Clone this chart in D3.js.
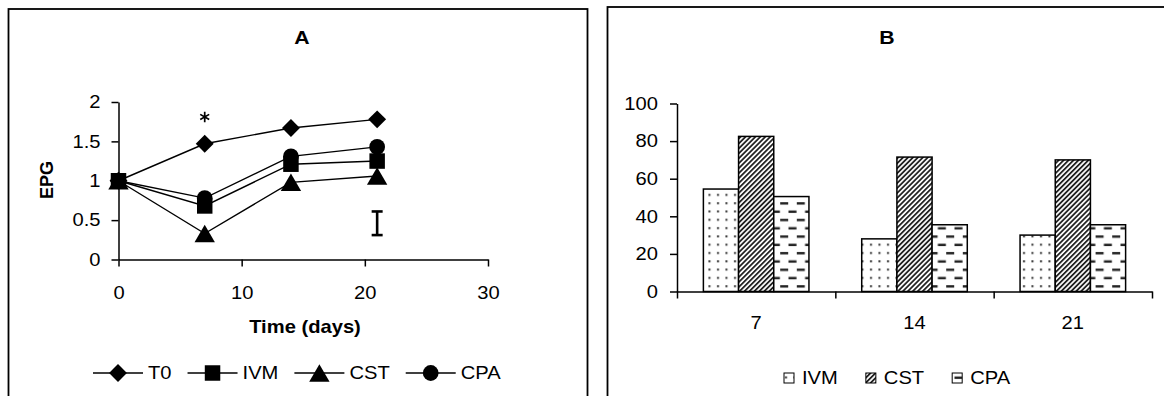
<!DOCTYPE html>
<html lang="en">
  <head>
    <meta charset="UTF-8" />
    <title>EPG and reduction</title>
    <style>
      body { margin: 0; background: #fff; }
      svg { display: block; font-family: "Liberation Sans", Arial, sans-serif; }
    </style>
  </head>
  <body>
    <svg></svg>
    <script src="https://cdnjs.cloudflare.com/ajax/libs/d3/7.8.5/d3.min.js"></script>
    <script>
      // ---- data, panel A (EPG over time) ----
      const days = [0, 7, 14, 21];
      const epgT0 = [1, 1.47, 1.67, 1.78];
      const epgIVM = [1, 0.68, 1.21, 1.25];
      const epgCST = [1, 0.33, 0.98, 1.06];
      const epgCPA = [1, 0.78, 1.31, 1.43];
      const lineNames = ["T0", "IVM", "CST", "CPA"];
      const xTicksA = [0, 10, 20, 30];
      const yTicksA = [0, 0.5, 1, 1.5, 2];
      const starDay = 7, starValue = 1.81;
      const errDay = 21, errLow = 0.31, errHigh = 0.61;

      // ---- data, panel B (bars) ----
      const barDays = ["7", "14", "21"];
      const barSeries = ["IVM", "CST", "CPA"];
      const pctIVM = [54.5, 28, 30];
      const pctCST = [82.5, 71.5, 70];
      const pctCPA = [50.5, 35.5, 35.5];
      const yTicksB = [0, 20, 40, 60, 80, 100];

      const W = 1164, H = 396;
      const K = 1.12; // text in the picture is a bit wider than plain Arial

      const svg = d3.select("svg").attr("width", W).attr("height", H);
      svg.append("rect").attr("width", W).attr("height", H).attr("fill", "#fff");

      // patterns for the bars
      const defs = svg.append("defs");
      const pDots = defs.append("pattern").attr("id", "p-IVM")
        .attr("patternUnits", "userSpaceOnUse").attr("width", 8.5).attr("height", 8.3);
      pDots.append("rect").attr("width", 8.5).attr("height", 8.3).attr("fill", "#fff");
      pDots.append("rect").attr("x", 3).attr("y", 3).attr("width", 2).attr("height", 2).attr("fill", "#333");

      const pHatch = defs.append("pattern").attr("id", "p-CST")
        .attr("patternUnits", "userSpaceOnUse").attr("width", 3.5).attr("height", 3.5)
        .attr("patternTransform", "rotate(45)");
      pHatch.append("rect").attr("width", 3.5).attr("height", 3.5).attr("fill", "#fff");
      pHatch.append("line").attr("x1", 0.9).attr("x2", 0.9).attr("y1", 0).attr("y2", 3.5)
        .attr("stroke", "#222").attr("stroke-width", 1.8);

      const pDash = defs.append("pattern").attr("id", "p-CPA")
        .attr("patternUnits", "userSpaceOnUse").attr("width", 16.6).attr("height", 16.6);
      pDash.append("rect").attr("width", 16.6).attr("height", 16.6).attr("fill", "#fff");
      pDash.append("rect").attr("x", 0).attr("y", 3).attr("width", 8).attr("height", 2.4).attr("fill", "#222");
      pDash.append("rect").attr("x", 8.3).attr("y", 11.3).attr("width", 8).attr("height", 2.4).attr("fill", "#222");

      // panel frames (bottom runs off the picture)
      svg.append("rect").attr("x", 8.5).attr("y", 9).attr("width", 579).attr("height", 400)
        .attr("fill", "none").attr("stroke", "#000").attr("stroke-width", 1.8);
      svg.append("rect").attr("x", 607.5).attr("y", 7).attr("width", 570).attr("height", 400)
        .attr("fill", "none").attr("stroke", "#000").attr("stroke-width", 1.8);

      function label(x, y, str, size, bold, anchor) {
        const g = svg.append("g").attr("transform", `translate(${x},${y})`);
        g.append("text")
          .attr("transform", `scale(${K},1)`)
          .attr("text-anchor", anchor || "middle")
          .attr("font-size", size)
          .attr("font-weight", bold ? "bold" : "normal")
          .text(str);
        return g;
      }

      function styleAxis(g) {
        g.selectAll("path, line").attr("stroke", "#000").attr("stroke-width", 1.5);
        g.selectAll("text").attr("fill", "#000").attr("font-size", 18)
          .each(function () {
            const t = d3.select(this);
            const x = +t.attr("x") || 0;
            t.attr("x", x / K).attr("transform", `scale(${K},1)`);
          });
        g.attr("font-family", null);
      }

      // ================= panel A =================
      const xA = d3.scaleLinear().domain([0, 30]).range([118.5, 488]);
      const yA = d3.scaleLinear().domain([0, 2]).range([259.5, 102]);

      svg.append("g").attr("transform", `translate(0,${yA(0)})`)
        .call(d3.axisBottom(xA).tickValues(xTicksA).tickSize(7).tickSizeOuter(0)
          .tickPadding(20).tickFormat(d3.format("d")))
        .call(styleAxis);
      svg.append("g").attr("transform", `translate(${xA(0)},0)`)
        .call(d3.axisLeft(yA).tickValues(yTicksA).tickSize(7).tickSizeOuter(0)
          .tickPadding(11).tickFormat(d3.format("")))
        .call(styleAxis);

      label(302, 43.5, "A", 19, true);
      label(305, 333, "Time (days)", 18, true);
      svg.append("text").attr("transform", "translate(53,180) rotate(-90)")
        .attr("text-anchor", "middle").attr("font-size", 18).attr("font-weight", "bold")
        .text("EPG");

      const symbols = {
        T0: { type: d3.symbolSquare, size: 160, rot: 45, dy: 0 },
        IVM: { type: d3.symbolSquare, size: 240, rot: 0, dy: 0 },
        CST: { type: d3.symbolTriangle, size: 180, rot: 0, dy: 2.9 },
        CPA: { type: d3.symbolCircle, size: 195, rot: 0, dy: 0 }
      };
      function drawMarker(parent, name, x, y) {
        const s = symbols[name];
        parent.append("path")
          .attr("d", d3.symbol().type(s.type).size(s.size)())
          .attr("transform", `translate(${x},${y + s.dy}) rotate(${s.rot})`)
          .attr("fill", "#000");
      }

      const seriesA = [epgT0, epgIVM, epgCST, epgCPA];
      const line = d3.line().x((d, i) => xA(days[i])).y(d => yA(d));
      const gLines = svg.append("g");
      seriesA.forEach((vals, si) => {
        gLines.append("path").attr("d", line(vals))
          .attr("fill", "none").attr("stroke", "#000").attr("stroke-width", 1.4);
        vals.forEach((v, i) => drawMarker(gLines, lineNames[si], xA(days[i]), yA(v)));
      });

      // significance star and the error bar
      svg.append("path")
        .attr("d", d3.symbol().type(d3.symbolAsterisk).size(75)())
        .attr("transform", `translate(${xA(starDay)},${yA(starValue)})`)
        .attr("fill", "none").attr("stroke", "#000").attr("stroke-width", 1.7);
      const eb = svg.append("g").attr("stroke", "#000").attr("stroke-width", 2.6);
      eb.append("line").attr("x1", xA(errDay)).attr("x2", xA(errDay))
        .attr("y1", yA(errHigh)).attr("y2", yA(errLow));
      [errHigh, errLow].forEach(v => {
        eb.append("line").attr("x1", xA(errDay) - 5.5).attr("x2", xA(errDay) + 5.5)
          .attr("y1", yA(v)).attr("y2", yA(v));
      });

      // legend A
      let lx = 93;
      const legY = 373;
      lineNames.forEach(name => {
        const g = svg.append("g");
        g.append("line").attr("x1", lx).attr("x2", lx + 50).attr("y1", legY).attr("y2", legY)
          .attr("stroke", "#000").attr("stroke-width", 1.4);
        drawMarker(g, name, lx + 25, legY);
        const t = label(lx + 55, legY, name, 18, false, "start");
        t.select("text").attr("dy", "0.35em");
        const w = t.select("text").node().getComputedTextLength() * K;
        lx += 55 + w + 16;
      });

      // ================= panel B =================
      const xB = d3.scaleBand().domain(barDays).range([677, 1152])
        .paddingInner(1 / 3).paddingOuter(1 / 6);
      const xSub = d3.scaleBand().domain(barSeries).range([0, xB.bandwidth()]);
      const yB = d3.scaleLinear().domain([0, 100]).range([291.5, 103.5]);
      const xEdge = d3.scaleLinear().domain([0, barDays.length]).range(xB.range());

      const barData = { IVM: pctIVM, CST: pctCST, CPA: pctCPA };
      const gBars = svg.append("g");
      barSeries.forEach(s => {
        gBars.selectAll(null).data(barData[s]).join("rect")
          .attr("x", (d, i) => xB(barDays[i]) + xSub(s))
          .attr("y", d => yB(d))
          .attr("width", xSub.bandwidth())
          .attr("height", d => yB(0) - yB(d))
          .attr("fill", `url(#p-${s})`)
          .attr("stroke", "#000").attr("stroke-width", 1.5);
      });

      svg.append("g").attr("transform", `translate(0,${yB(0)})`)
        .call(d3.axisBottom(xEdge).tickValues(d3.range(0, barDays.length + 1))
          .tickSize(7).tickSizeOuter(0).tickFormat(() => ""))
        .call(styleAxis);
      svg.append("g").attr("transform", `translate(0,${yB(0)})`)
        .call(d3.axisBottom(xB).tickSize(0).tickPadding(25))
        .call(g => g.select(".domain").remove())
        .call(styleAxis);
      svg.append("g").attr("transform", `translate(${xEdge(0)},0)`)
        .call(d3.axisLeft(yB).tickValues(yTicksB).tickSize(7).tickSizeOuter(0).tickPadding(12))
        .call(styleAxis);

      label(887, 44, "B", 19, true);

      // legend B
      let bx = 784;
      const legBY = 378;
      barSeries.forEach(s => {
        svg.append("rect").attr("x", bx).attr("y", legBY - 5).attr("width", 10).attr("height", 10)
          .attr("fill", `url(#p-${s})`).attr("stroke", "#000").attr("stroke-width", 1);
        const t = label(bx + 18, legBY, s, 18, false, "start");
        t.select("text").attr("dy", "0.35em");
        const w = t.select("text").node().getComputedTextLength() * K;
        bx += 18 + w + 28;
      });
    </script>
  </body>
</html>
